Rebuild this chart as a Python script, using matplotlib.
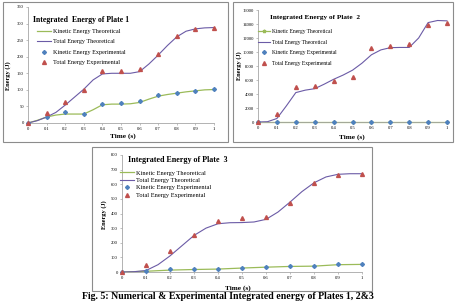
import matplotlib
matplotlib.use("Agg")
import matplotlib.pyplot as plt
from matplotlib.patches import Rectangle
import numpy as np

plt.rcParams['font.family'] = ['Liberation Serif', 'DejaVu Serif']

W, H = 455, 301

# sample times
t_exp = [0, 0.1, 0.2, 0.3, 0.4, 0.5, 0.6, 0.7, 0.8, 0.9, 1.0]
t_fine = [0, 0.05, 0.1, 0.15, 0.2, 0.25, 0.3, 0.35, 0.4, 0.45, 0.5,
          0.55, 0.6, 0.65, 0.7, 0.75, 0.8, 0.85, 0.9, 0.95, 1.0]

# Plate 1
p1_ke_th = [0, 8, 18, 24, 27, 27, 27, 40, 55, 57, 57, 58, 62, 72, 81, 86, 90, 94, 97, 100, 101]
p1_te_th = [0, 7, 18, 32, 54, 78, 102, 130, 148, 150, 150, 150, 155, 178, 205, 234, 260, 277, 284, 287, 288]
p1_ke_ex = [0, 19, 32, 28, 58, 61, 66, 85, 91, 98, 102]
p1_te_ex = [0, 31, 63, 100, 157, 157, 163, 208, 263, 284, 288]

# Plate 2
p2_ke_th = [0, 0, 0, 0, 0, 0, 0, 0, 0, 0, 0]
p2_te_th = [0, 40, 500, 2300, 4200, 4550, 4760, 5400, 6100, 6700, 7400,
            8400, 9600, 10300, 10620, 10650, 10650, 12000, 14200, 14500, 14450]
p2_ke_ex = [0, 0, 0, 0, 0, 0, 0, 0, 0, 0, 0]
p2_te_ex = [0, 1140, 4950, 5140, 5860, 6380, 10570, 10900, 11190, 13810, 14100]

# Plate 3
p3_ke_th = [0, 5, 13, 17, 20, 27, 33, 38, 40, 50, 52]
p3_te_th = [0, 2, 10, 50, 110, 180, 250, 300, 330, 337, 338,
            342, 360, 410, 478, 550, 610, 650, 668, 672, 672]
p3_ke_ex = [0, 5, 18, 18, 22, 30, 35, 40, 40, 52, 52]
p3_te_ex = [0, 45, 147, 253, 350, 366, 375, 474, 607, 666, 673]

x_ticks = [0, 0.1, 0.2, 0.3, 0.4, 0.5, 0.6, 0.7, 0.8, 0.9, 1]
x_ticklabels = ['0', '0.1', '0.2', '0.3', '0.4', '0.5', '0.6', '0.7', '0.8', '0.9', '1']

legend_names = ['Kinetic Energy Theoretical', 'Total Energy Theoretical',
                'Kinetic Energy Experimental', 'Total Energy Experimental']

GREEN = '#9bbb59'
PURPLE = '#6b5ba6'
BLUE = '#4f81bd'
RED = '#c0504d'
GRID = '#a6a6a6'


def fx(px):
    return px / W


def fy(py):
    return 1 - py / H


def add_axes(fig, l, t, r, b):
    return fig.add_axes([fx(l), fy(b), fx(r) - fx(l), fy(t) - fy(b)])


def draw_plate(fig, box, axbox, ke_th, te_th, ke_ex, te_ex, ke_t, yticks,
               title, title_xy, leg_xy, leg_fs, leg_sp, ylab_xy, xlab_xy, ke_marker=False):
    fig.add_artist(Rectangle((fx(box[0]), fy(box[3])), fx(box[2]) - fx(box[0]),
                             fy(box[1]) - fy(box[3]), transform=fig.transFigure,
                             fill=False, edgecolor='#8c8c8c', linewidth=0.8))
    ax = add_axes(fig, *axbox)
    ax.plot(ke_t, ke_th, color=GREEN, lw=0.9, marker='*' if ke_marker else None,
            ms=2.5, label=legend_names[0], clip_on=False, zorder=2)
    ax.plot(t_fine, te_th, color=PURPLE, lw=0.8, label=legend_names[1], clip_on=False, zorder=2)
    ax.plot(t_exp, ke_ex, ls='none', marker='D', ms=2.0, color=BLUE,
            label=legend_names[2], clip_on=False, zorder=3)
    ax.plot(t_exp, te_ex, ls='none', marker='^', ms=2.8, color=RED,
            label=legend_names[3], clip_on=False, zorder=3)
    ax.set_xlim(0, 1)
    ax.set_ylim(yticks[0], yticks[-1])
    ax.set_xticks(x_ticks)
    ax.set_xticklabels(x_ticklabels)
    ax.set_yticks(yticks)
    ax.tick_params(labelsize=3.3, length=1.5, width=0.5, color=GRID, pad=1.5)
    for s in ['top', 'right']:
        ax.spines[s].set_visible(False)
    for s in ['left', 'bottom']:
        ax.spines[s].set_color(GRID)
        ax.spines[s].set_linewidth(0.6)
    ax.text(title_xy[0], title_xy[1], title, transform=ax.transAxes,
            fontsize=leg_fs + 1.2, fontweight='bold', va='center', ha='left')
    ax.legend(loc='upper left', bbox_to_anchor=leg_xy, frameon=False,
              fontsize=leg_fs, handlelength=2.2, handletextpad=0.3,
              labelspacing=leg_sp, borderpad=0, borderaxespad=0)
    fig.text(fx(ylab_xy[0]), fy(ylab_xy[1]), 'Energy (J)', rotation=90,
             fontsize=4.6, fontweight='bold', ha='center', va='center')
    fig.text(fx(xlab_xy[0]), fy(xlab_xy[1]), 'Time (s)',
             fontsize=5.2, fontweight='bold', ha='center', va='center')
    return ax


def main():
    fig = plt.figure(figsize=(W / 100, H / 100), dpi=100)

    draw_plate(fig, (3, 2, 228, 142), (28, 7, 214, 123),
               p1_ke_th, p1_te_th, p1_ke_ex, p1_te_ex, t_fine,
               [0, 50, 100, 150, 200, 250, 300, 350],
               'Integrated  Energy of Plate 1', (0.027, 0.885), (0.05, 0.815),
               4.4, 0.85, (8, 76), (123, 136))

    draw_plate(fig, (233, 2, 453, 142), (258, 10, 447, 122),
               p2_ke_th, p2_te_th, p2_ke_ex, p2_te_ex, t_exp,
               [0, 2000, 4000, 6000, 8000, 10000, 12000, 14000, 16000],
               'Integrated Energy of Plate  2', (0.063, 0.93), (0.0, 0.83),
               4.0, 1.0, (239, 66), (352, 137), ke_marker=True)

    draw_plate(fig, (92, 147, 372, 291), (122, 155, 362, 272),
               p3_ke_th, p3_te_th, p3_ke_ex, p3_te_ex, t_exp,
               [0, 100, 200, 300, 400, 500, 600, 700, 800],
               'Integrated Energy of Plate  3', (0.025, 0.955), (-0.01, 0.87),
               4.6, 0.3, (104, 215), (238, 288))

    fig.text(0.5, fy(296.5), 'Fig. 5: Numerical & Experimental Integrated energy of Plates 1, 2&3',
             fontsize=7.1, fontweight='bold', ha='center', va='center')

    fig.savefig('out.png', dpi=100)


if __name__ == "__main__":
    main()
